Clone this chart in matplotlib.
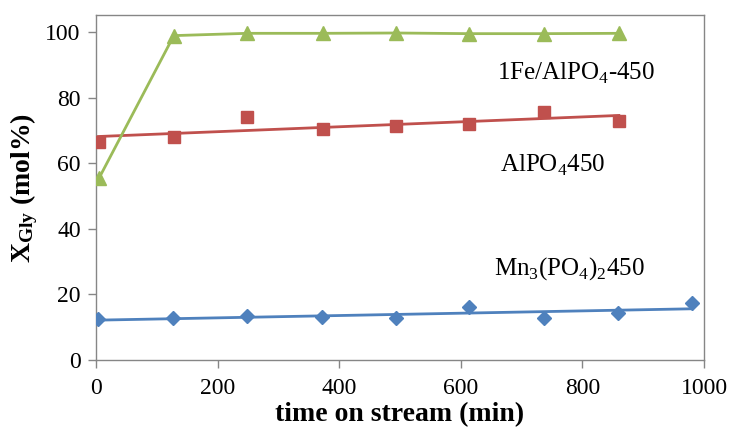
import numpy as np
import matplotlib
matplotlib.use("Agg")
import matplotlib.pyplot as plt

plt.rcParams['font.family'] = ['Liberation Serif', 'DejaVu Serif']
plt.rcParams['mathtext.fontset'] = 'custom'
plt.rcParams['mathtext.rm'] = 'Liberation Serif'
plt.rcParams['mathtext.bf'] = 'Liberation Serif:bold'

# Data
t_fe = [5, 128, 249, 373, 494, 613, 737, 860]
x_fe = [55.5, 99.0, 99.7, 99.7, 99.8, 99.6, 99.6, 99.7]

t_al = [5, 128, 249, 373, 494, 613, 737, 860]
x_al = [66.6, 68.1, 74.1, 70.6, 71.3, 72.1, 75.6, 73.0]

t_mn = [3, 126, 248, 371, 493, 614, 737, 858, 981]
x_mn = [12.4, 12.8, 13.3, 13.2, 12.8, 16.2, 12.9, 14.2, 17.3]

labels = ["1Fe/AlPO$_4$-450", "AlPO$_4$450", "Mn$_3$(PO$_4$)$_2$450"]
xticks = [0, 200, 400, 600, 800, 1000]
yticks = [0, 20, 40, 60, 80, 100]

green = '#9BBB59'
red = '#C0504D'
blue = '#4F81BD'
gray = '#868686'

fig = plt.figure(figsize=(7.3, 4.34), dpi=100)
ax = fig.add_axes([96/730, 1-360/434, (704-96)/730, (360-15.3)/434])

# green: line connecting points
ax.plot(t_fe, x_fe, color=green, lw=2.0, marker='^', ms=9.5, mec=green, mfc=green, zorder=3)

# red: markers + linear trend
ax.plot(t_al, x_al, ls='none', marker='s', ms=9, color=red, zorder=3)
p = np.polyfit(t_al, x_al, 1)
tt = np.array([0, t_al[-1]])
ax.plot(tt, np.polyval(p, tt), color=red, lw=2.0, zorder=2)

# blue: markers + linear trend
ax.plot(t_mn, x_mn, ls='none', marker='D', ms=7.5, color=blue, zorder=3)
p2 = np.polyfit(t_mn, x_mn, 1)
tt2 = np.array([0, t_mn[-1]])
ax.plot(tt2, np.polyval(p2, tt2), color=blue, lw=2.0, zorder=2)

ax.set_xlim(0, 1000)
ax.set_ylim(0, 105.2)
ax.set_xticks(xticks)
ax.set_yticks(yticks)
ax.tick_params(axis='both', labelsize=17, color=gray, length=6, width=1, direction='out')
ax.tick_params(axis='x', pad=7)
ax.tick_params(axis='y', pad=5)
for s in ax.spines.values():
    s.set_color(gray)
    s.set_linewidth(1)

ax.set_xlabel('time on stream (min)', fontsize=20, fontweight='bold', labelpad=2)
ax.set_ylabel(r'$\mathbf{X_{Gly}}$ (mol%)', fontsize=20, fontweight='bold', labelpad=4)

ax.text(660, 87.6, labels[0], fontsize=18, va='center', ha='left')
ax.text(664, 59.5, labels[1], fontsize=18, va='center', ha='left')
ax.text(655, 28, labels[2], fontsize=18, va='center', ha='left')

fig.savefig('out.png', dpi=100)
